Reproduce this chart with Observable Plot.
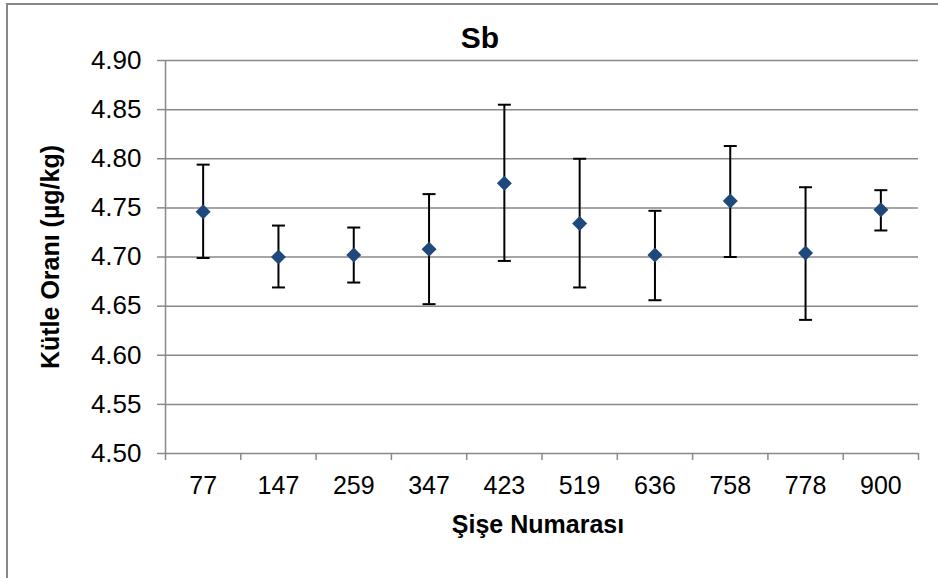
<!DOCTYPE html>
<html>
<head>
<meta charset="utf-8">
<script src="https://cdn.jsdelivr.net/npm/d3@7"></script>
<script src="https://cdn.jsdelivr.net/npm/@observablehq/plot@0.6"></script>
<style>
  html, body { margin: 0; padding: 0; background: #fff; overflow: hidden; }
  #chart { position: absolute; left: 0; top: 0; }
  #frame {
    position: absolute; left: 6px; top: 3px; width: 1000px; height: 700px;
    border: 2px solid #878787; pointer-events: none; box-sizing: border-box;
  }
</style>
</head>
<body>
<div id="chart"></div>
<div id="frame"></div>
<script>
// Bottle numbers and measured Sb mass fractions (µg/kg) with uncertainty range
const bottles = ["77", "147", "259", "347", "423", "519", "636", "758", "778", "900"];
const means = [4.746, 4.700, 4.702, 4.708, 4.775, 4.734, 4.702, 4.757, 4.704, 4.748];
const upper = [4.794, 4.732, 4.730, 4.764, 4.855, 4.800, 4.747, 4.813, 4.771, 4.768];
const lower = [4.699, 4.669, 4.674, 4.652, 4.696, 4.669, 4.656, 4.700, 4.636, 4.727];
const yTicks = [4.50, 4.55, 4.60, 4.65, 4.70, 4.75, 4.80, 4.85, 4.90];

const titleText = "Sb";
const xTitle = "Şişe Numarası";
const yTitle = "Kütle Oranı (µg/kg)";

const rows = bottles.map((b, i) => ({pos: i + 1, bottle: b, mean: means[i], lo: lower[i], hi: upper[i]}));
const slotEdges = d3.range(0, bottles.length + 1).map(k => k + 0.5);
const slotCenters = rows.map(d => d.pos);

const font = "'Liberation Sans', Arial, Helvetica, sans-serif";
const gridColor = "#898989";
const markerColor = "#1F497D";

// marker shapes: rotated square for the mean, short horizontal bar for error caps
const diamond = {
  draw(ctx) {
    const h = 7.5;
    ctx.moveTo(0, -h); ctx.lineTo(h, 0); ctx.lineTo(0, h); ctx.lineTo(-h, 0); ctx.closePath();
  }
};
const cap = {
  draw(ctx) {
    const w = 6.5;
    ctx.moveTo(-w, 0); ctx.lineTo(w, 0);
  }
};

const chart = Plot.plot({
  width: 938,
  height: 578,
  marginLeft: 165,
  marginRight: 20,
  marginTop: 60,
  marginBottom: 125,
  style: {fontFamily: font, background: "transparent", overflow: "visible"},
  x: {domain: [0.5, bottles.length + 0.5]},
  y: {domain: [4.5, 4.9]},
  marks: [
    // horizontal gridlines
    Plot.ruleY(yTicks.slice(1), {stroke: gridColor, strokeWidth: 1.5}),
    // y axis line
    Plot.ruleX([0.5], {y1: 4.5, y2: 4.9, stroke: gridColor, strokeWidth: 1.5}),
    // y ticks and labels
    Plot.axisY({
      ticks: yTicks, tickFormat: d3.format(".2f"), tickSize: 8, tickPadding: 16,
      stroke: gridColor, strokeWidth: 1.5, fill: "black", fontSize: 26, label: null
    }),
    // x axis line with ticks between bottles
    Plot.ruleY([4.5], {stroke: gridColor, strokeWidth: 1.5}),
    Plot.axisX({
      ticks: slotEdges, tickSize: 7, tickFormat: () => "",
      stroke: gridColor, strokeWidth: 1.5, label: null
    }),
    // bottle labels centred under each slot
    Plot.axisX({
      ticks: slotCenters, tickSize: 0, tickPadding: 23,
      tickFormat: p => bottles[p - 1], fill: "black", fontSize: 25, label: null
    }),
    // error bars
    Plot.ruleX(rows, {x: "pos", y1: "lo", y2: "hi", stroke: "black", strokeWidth: 2}),
    Plot.dot(rows, {x: "pos", y: "hi", symbol: cap, r: 1, stroke: "black", strokeWidth: 2, fill: "none"}),
    Plot.dot(rows, {x: "pos", y: "lo", symbol: cap, r: 1, stroke: "black", strokeWidth: 2, fill: "none"}),
    // means
    Plot.dot(rows, {x: "pos", y: "mean", symbol: diamond, r: 1, fill: markerColor, stroke: "none"}),
    // titles
    Plot.text([titleText], {frameAnchor: "top", lineAnchor: "middle", textAnchor: "middle", dx: -62, dy: -22, fontSize: 30, fontWeight: "bold", fill: "black"}),
    Plot.text([xTitle], {frameAnchor: "bottom", lineAnchor: "middle", textAnchor: "middle", dx: -4, dy: 71, fontSize: 25, fontWeight: "bold", fill: "black"}),
    Plot.text([yTitle], {frameAnchor: "left", lineAnchor: "middle", textAnchor: "middle", dx: -115, dy: 0, rotate: -90, fontSize: 25, fontWeight: "bold", fill: "black"})
  ]
});

document.getElementById("chart").appendChild(chart);
</script>
</body>
</html>
